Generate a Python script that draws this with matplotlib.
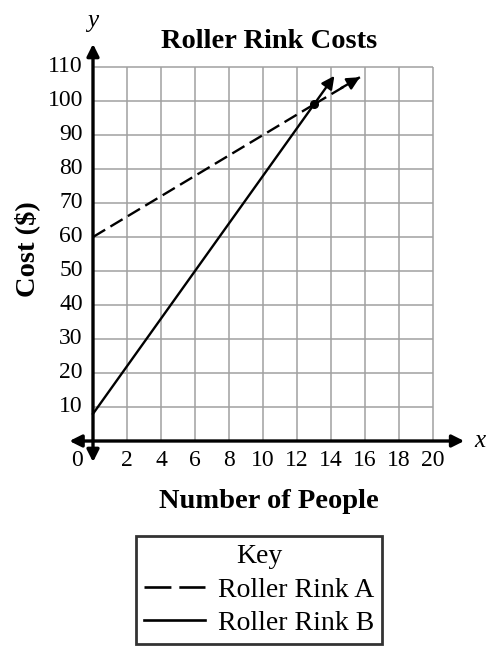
import numpy as np
import matplotlib.pyplot as plt
from matplotlib.lines import Line2D

plt.rcParams['font.family'] = ['Liberation Serif', 'DejaVu Serif']

# 数据：两条直线的端点（A 虚线，B 实线），交点 (13, 99)
rink_a_x = [0, 13, 15.7]
rink_a_y = [60, 99, 107]
rink_b_x = [0, 13, 14.2]
rink_b_y = [8, 99, 107.4]
meet_x, meet_y = 13, 99

x_ticks = list(range(2, 21, 2))
y_ticks = list(range(10, 111, 10))

fig = plt.figure(figsize=(4.9, 6.52), dpi=100)
# 坐标区：x 0->93px, 20->433px ; y 0->441px, 110->67px
ax = fig.add_axes([60/490, 1-470/652, 410/490, 435/652])
ax.set_xlim((60-93)/17, (470-93)/17)
ax.set_ylim((441-470)/3.4, (441-35)/3.4)
ax.axis('off')

# 网格
ax.vlines(x_ticks, 0, 110, color='#a0a0a0', lw=1.1, zorder=1)
ax.hlines(y_ticks, 0, 20, color='#a0a0a0', lw=1.1, zorder=1)

# 坐标轴箭头
ax.annotate('', xy=(22.0, 0), xytext=(-1.55, 0),
            arrowprops=dict(arrowstyle='<|-|>', color='black', lw=2.4, mutation_scale=18))
ax.annotate('', xy=(0, 117.6), xytext=(0, -7.0),
            arrowprops=dict(arrowstyle='<|-|>', color='black', lw=2.4, mutation_scale=18))

# 刻度标签
for t in x_ticks:
    ax.text(t, -5.6, str(t), ha='center', va='center', fontsize=17)
ax.text(-0.95, -5.6, '0', ha='center', va='center', fontsize=17)
for t in y_ticks:
    ax.text(-0.6, t, str(t), ha='right', va='center', fontsize=17)

ax.text(0, 123.5, 'y', ha='center', va='center', fontsize=18, style='italic')
ax.text(22.75, 0, 'x', ha='center', va='center', fontsize=18, style='italic')

# 两条线
ax.plot(rink_a_x[:-1], rink_a_y[:-1], color='black', lw=1.7, dashes=(6, 2.6))
ax.plot(rink_b_x[:-1], rink_b_y[:-1], color='black', lw=1.7)
ax.plot(rink_a_x[-2:], rink_a_y[-2:], color='black', lw=1.7, dashes=(6, 2.6))
ax.annotate('', xy=(rink_a_x[-1], rink_a_y[-1]), xytext=(rink_a_x[-2] + 1.6, rink_a_y[-2] + 4.8),
            arrowprops=dict(arrowstyle='-|>', color='black', lw=1.7, mutation_scale=19,
                            shrinkA=0, shrinkB=0))
ax.annotate('', xy=(rink_b_x[-1], rink_b_y[-1]), xytext=(rink_b_x[-2], rink_b_y[-2]),
            arrowprops=dict(arrowstyle='-|>', color='black', lw=1.7, mutation_scale=19,
                            shrinkA=0, shrinkB=0))
ax.plot([meet_x], [meet_y], 'o', color='black', ms=5.5)

# 标题与轴标签
fig.text(269/490, 1-42/652, 'Roller Rink Costs', ha='center', va='center',
         fontsize=20.5, fontweight='bold')
fig.text(27/490, 1-249/652, 'Cost ($)', ha='center', va='center', rotation=90,
         fontsize=20.5, fontweight='bold')
fig.text(269/490, 1-501/652, 'Number of People', ha='center', va='center',
         fontsize=20.5, fontweight='bold')

# 图例 Key
handles = [Line2D([], [], color='black', lw=1.9, dashes=(10.2, 3)),
           Line2D([], [], color='black', lw=1.9)]
leg = fig.legend(handles, ['Roller Rink A', 'Roller Rink B'], title='Key',
                 loc='upper center', bbox_to_anchor=(259/490, 1-536/652),
                 fontsize=20, title_fontsize=20, frameon=True, fancybox=False,
                 edgecolor='black', handlelength=2.2, handletextpad=0.45,
                 borderpad=0.3, labelspacing=0.28, borderaxespad=0)
leg.get_frame().set_linewidth(2.0)

fig.savefig('out.png', dpi=100)
